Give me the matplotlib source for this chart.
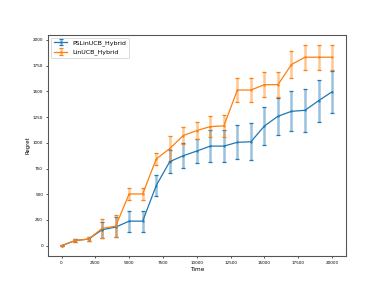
import matplotlib
matplotlib.use("Agg")
import matplotlib.pyplot as plt

time = [0, 1000, 2000, 3000, 4000, 5000, 6000, 7000, 8000, 9000, 10000,
        11000, 12000, 13000, 14000, 15000, 16000, 17000, 18000, 19000, 20000]

ps_mean = [0, 50, 65, 155, 181, 239, 239, 585, 817, 875, 920,
           968, 968, 1005, 1010, 1164, 1258, 1306, 1316, 1409, 1496]
ps_err = [5, 12, 18, 80, 97, 102, 102, 103, 113, 120, 120,
          153, 155, 166, 180, 182, 182, 196, 210, 205, 205]

lin_mean = [0, 50, 65, 168, 190, 503, 503, 843, 944, 1071, 1119,
            1158, 1164, 1513, 1513, 1565, 1565, 1761, 1832, 1832, 1832]
lin_err = [5, 15, 20, 90, 105, 55, 55, 57, 120, 85, 85,
           100, 105, 113, 113, 120, 120, 127, 122, 122, 122]

fig, ax = plt.subplots(figsize=(6.4, 4.8), dpi=60)

for mean, err, label in [(ps_mean, ps_err, "PSLinUCB_Hybrid"),
                         (lin_mean, lin_err, "LinUCB_Hybrid")]:
    cont = ax.errorbar(time, mean, yerr=err, label=label,
                       marker=".", markersize=3,
                       elinewidth=3, capsize=2, capthick=1.5)
    for bars in cont[2]:
        bars.set_alpha(0.45)

ax.tick_params(labelsize=5, width=0.8, length=2.5)
for sp in ax.spines.values():
    sp.set_linewidth(1.3)
    sp.set_color("#555555")
ax.set_xlabel("Time", fontsize=7, labelpad=2)
ax.set_ylabel("Regret", fontsize=6.5, labelpad=2)
ax.legend(loc="upper left", fontsize=7.5, handlelength=2.2)

plt.savefig("out.png", dpi=60)
